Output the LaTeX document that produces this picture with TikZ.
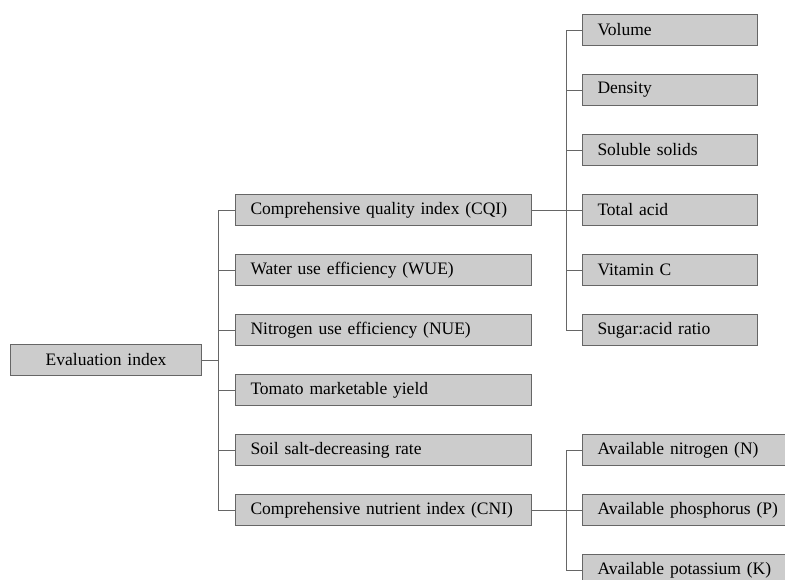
\documentclass[tikz,border=0pt]{standalone}
\usepackage{fontspec}
\setmainfont{Liberation Serif}

\tikzset{
  box/.style={draw=black!60, fill=black!20, line width=1pt, anchor=west,
    minimum height=31pt, inner xsep=15pt, text width=#1, align=left,
    font=\fontsize{17.5}{20}\selectfont},
  link/.style={draw=black!60, line width=1pt},
}

\begin{document}
\begin{tikzpicture}[x=1pt,y=-1pt]
    \useasboundingbox (0,0) rectangle (785,579);
    \clip (0,0) rectangle (785,579);
    % root
    \node[box=161pt, align=center] (eval) at (10,360) {Evaluation index};
    % middle level
    \node[box=266pt] (cqi) at (235,210) {Comprehensive quality index (CQI)};
    \node[box=266pt] (wue) at (235,270) {Water use efficiency (WUE)};
    \node[box=266pt] (nue) at (235,330) {Nitrogen use efficiency (NUE)};
    \node[box=266pt] (yield) at (235,390) {Tomato marketable yield};
    \node[box=266pt] (salt) at (235,450) {Soil salt-decreasing rate};
    \node[box=266pt] (cni) at (235,510) {Comprehensive nutrient index (CNI)};
    % quality items
    \node[box=145pt] (vol) at (582,30) {Volume};
    \node[box=145pt] (dens) at (582,90) {Density};
    \node[box=145pt] (sol) at (582,150) {Soluble solids};
    \node[box=145pt] (acid) at (582,210) {Total acid};
    \node[box=145pt] (vitc) at (582,270) {Vitamin C};
    \node[box=145pt] (ratio) at (582,330) {Sugar:acid ratio};
    % nutrient items
    \node[box=190pt] (avn) at (582,450) {Available nitrogen (N)};
    \node[box=190pt] (avp) at (582,510) {Available phosphorus (P)};
    \node[box=190pt] (avk) at (582,570) {Available potassium (K)};

    \coordinate (trunk) at (218,360);
    \coordinate (qbus) at (566,210);
    \coordinate (nbus) at (566,510);

    \draw[link] (eval) -- (trunk);
    \draw[link] (trunk |- cqi) -- (trunk |- cni);
    \foreach \n in {cqi,wue,nue,yield,salt,cni}
        \draw[link] (trunk |- \n) -- (\n);

    \draw[link] (cqi) -- (qbus);
    \draw[link] (qbus |- vol) -- (qbus |- ratio);
    \foreach \n in {vol,dens,sol,acid,vitc,ratio}
        \draw[link] (qbus |- \n) -- (\n);

    \draw[link] (cni) -- (nbus);
    \draw[link] (nbus |- avn) -- (nbus |- avk);
    \foreach \n in {avn,avp,avk}
        \draw[link] (nbus |- \n) -- (\n);
\end{tikzpicture}
\end{document}
